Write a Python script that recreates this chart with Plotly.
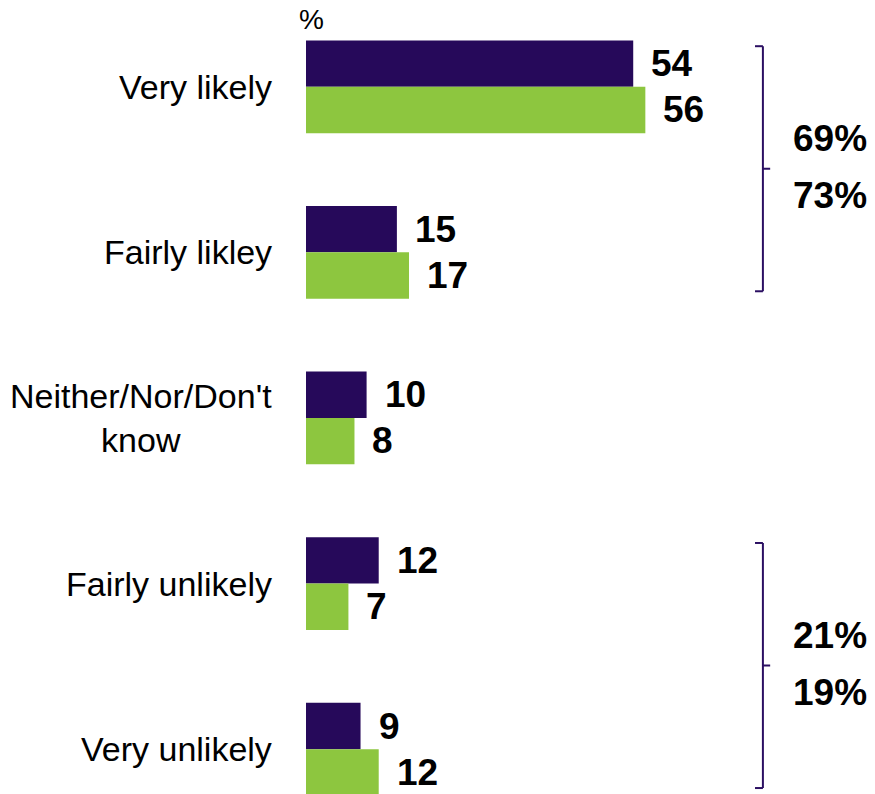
import plotly.graph_objects as go

# Survey responses (%), two waves
categories = ["Very likely", "Fairly likley", "Neither/Nor/Don't<br>know", "Fairly unlikely", "Very unlikely"]
wave_a = [54, 15, 10, 12, 9]
wave_b = [56, 17, 8, 7, 12]

# Net scores shown beside the brackets: (first category index, last category index, wave A, wave B)
net_groups = [(0, 1, "69%", "73%"), (3, 4, "21%", "19%")]

PURPLE = "#26095A"
GREEN = "#8DC63F"
BRACKET = "#2B0F62"
FONT = "Arial, Liberation Sans, sans-serif"

idx = list(range(len(categories)))

fig = go.Figure()
fig.add_trace(go.Bar(y=idx, x=wave_a, orientation="h", marker=dict(color=PURPLE, line=dict(width=0)),
                     name="A", showlegend=False, hoverinfo="x"))
fig.add_trace(go.Bar(y=idx, x=wave_b, orientation="h", marker=dict(color=GREEN, line=dict(width=0)),
                     name="B", showlegend=False, hoverinfo="x"))

annotations = []
# category labels to the left of the bars
for i, label in enumerate(categories):
    annotations.append(dict(x=0, y=i, xref="x", yref="y", text=label, showarrow=False,
                            xanchor="right", yanchor="middle", xshift=-32, align="center",
                            font=dict(family=FONT, size=34, color="#000000")))
# value labels at the end of each bar
for i in idx:
    for val, shift in ((wave_a[i], 23), (wave_b[i], -23)):
        annotations.append(dict(x=val, y=i, xref="x", yref="y", text=f"<b>{val}</b>", showarrow=False,
                                xanchor="left", yanchor="middle", xshift=16, yshift=shift,
                                font=dict(family=FONT, size=37, color="#000000")))

# "%" unit marker above the bars
annotations.append(dict(x=0, y=1, xref="x", yref="paper", text="%", showarrow=False,
                        xanchor="center", yanchor="middle", xshift=5, yshift=-19,
                        font=dict(family=FONT, size=28, color="#000000")))

# brackets grouping the likely / unlikely answers with net totals
shapes = []
bx = 75.4
for first, last, na, nb in net_groups:
    top = first - 0.245
    bot = last + 0.235
    mid = (top + bot) / 2
    line = dict(color=BRACKET, width=2)
    shapes.append(dict(type="line", xref="x", yref="y", x0=bx, x1=bx, y0=top, y1=bot, line=line))
    shapes.append(dict(type="line", xref="x", yref="y", x0=bx - 1.3, x1=bx, y0=top, y1=top, line=line))
    shapes.append(dict(type="line", xref="x", yref="y", x0=bx - 1.3, x1=bx, y0=bot, y1=bot, line=line))
    shapes.append(dict(type="line", xref="x", yref="y", x0=bx, x1=bx + 1.2, y0=mid, y1=mid, line=line))
    for txt, shift in ((na, 30), (nb, -27)):
        annotations.append(dict(x=bx, y=mid, xref="x", yref="y", text=f"<b>{txt}</b>", showarrow=False,
                                xanchor="center", yanchor="middle", xshift=67, yshift=shift,
                                font=dict(family=FONT, size=37, color="#000000")))

fig.update_layout(
    width=875, height=794,
    margin=dict(l=306, r=0, t=0, b=0),
    paper_bgcolor="white", plot_bgcolor="white",
    barmode="group", bargap=0.44, bargroupgap=0,
    xaxis=dict(range=[0, 93.9], visible=False, fixedrange=True),
    yaxis=dict(range=[4.271, -0.524], visible=False, fixedrange=True),
    annotations=annotations, shapes=shapes,
    showlegend=False,
)

fig.write_html("out.html")
